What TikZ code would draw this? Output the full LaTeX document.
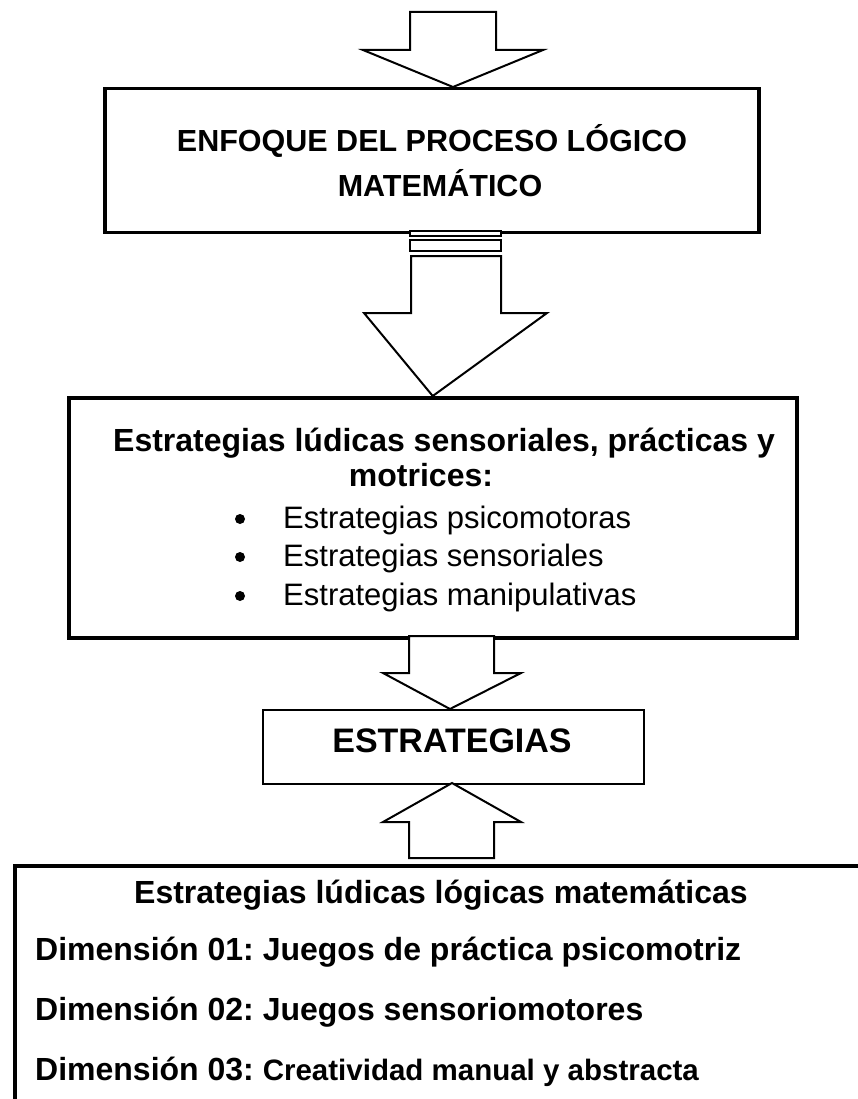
\documentclass[tikz,border=0pt]{standalone}
\usepackage{fontspec}
\setmainfont{Liberation Sans}
\usetikzlibrary{calc}
\frenchspacing
\tikzset{
  thickbox/.style={draw=black, line width=3.5pt, fill=white},
  thinbox/.style={draw=black, line width=2pt, fill=white},
  blockarrow/.style={draw=black, line width=2pt, fill=white, line join=miter},
  titletxt/.style={font=\fontsize{30.5}{36}\selectfont\bfseries, inner sep=0pt},
  bigtxt/.style={font=\fontsize{32}{38}\selectfont\bfseries, inner sep=0pt},
  normtxt/.style={font=\fontsize{31}{36}\selectfont, inner sep=0pt},
  midtxt/.style={font=\fontsize{34}{40}\selectfont\bfseries, inner sep=0pt},
}
\begin{document}
\begin{tikzpicture}[x=1pt,y=-1pt]
\useasboundingbox (0,0) rectangle (858,1099);
\clip (0,0) rectangle (858,1099);
\fill[white] (0,0) rectangle (858,1099);

% boxes
\node[thickbox, minimum width=654pt, minimum height=144pt, anchor=north west] (b1) at (103,87) {};
\node[thickbox, minimum width=728pt, minimum height=240pt, anchor=north west] (b2) at (67,396) {};
\node[thinbox, minimum width=381pt, minimum height=74pt, anchor=north west] (b3) at (262,709) {};
\node[thickbox, minimum width=880pt, minimum height=260pt, anchor=north west] (b4) at (13,864) {};

% arrow 1 (top, into box 1)
\coordinate (t1) at (453,87);
\draw[blockarrow] (t1) -- (363,50) -- (410,50) -- (410,12) -- (496,12) -- (496,50) -- (543,50) -- cycle;

% small bars between box 1 and arrow 2
\draw[blockarrow] (410,231) rectangle (501,236);
\draw[blockarrow] (410,240) rectangle (501,251);

% arrow 2 (box 1 -> box 2)
\coordinate (t2) at (b2.north);
\draw[blockarrow] (t2) -- (364,313) -- (411,313) -- (411,256) -- (501,256) -- (501,313) -- (547,313) -- cycle;

% arrow 3 (box 2 -> box 3)
\coordinate (t3) at (450,709);
\draw[blockarrow] (t3) -- (383,673) -- (409,673) -- (409,636) -- (494,636) -- (494,673) -- (521,673) -- cycle;

% arrow 4 (box 4 -> box 3, upward)
\coordinate (t4) at (452,783);
\draw[blockarrow] (t4) -- (383,822) -- (409,822) -- (409,858) -- (494,858) -- (494,822) -- (521,822) -- cycle;

% texts box 1
\node[titletxt, anchor=base] (b1l1) at (432,152) {ENFOQUE DEL PROCESO LÓGICO};
\node[titletxt, anchor=base] (b1l2) at (440,197) {MATEMÁTICO};

% texts box 2
\node[bigtxt, anchor=base west] (b2l1) at (113,451) {Estrategias lúdicas sensoriales, prácticas y};
\node[bigtxt, anchor=base] (b2l2) at (421,486) {motrices:};
\foreach \yy/\tt [count=\i] in {528/Estrategias psicomotoras, 566/Estrategias sensoriales, 605/Estrategias manipulativas}{
  \fill (240,\yy-9) circle (5pt);
  \node[normtxt, anchor=base west] (bl\i) at (283,\yy) {\tt};
}

% text box 3
\node[midtxt, anchor=base] (b3t) at (452,752) {ESTRATEGIAS};

% texts box 4
\node[bigtxt, anchor=base] (b4l1) at (441,903) {Estrategias lúdicas lógicas matemáticas};
\node[bigtxt, anchor=base west] (b4l2) at (35,960) {Dimensión 01: Juegos de práctica psicomotriz};
\node[bigtxt, anchor=base west] (b4l3) at (35,1020) {Dimensión 02: Juegos sensoriomotores};
\node[bigtxt, anchor=base west] (b4l4) at (35,1080) {Dimensión 03: {\fontsize{29.5}{33}\selectfont Creatividad manual y abstracta}};
\end{tikzpicture}
\end{document}
